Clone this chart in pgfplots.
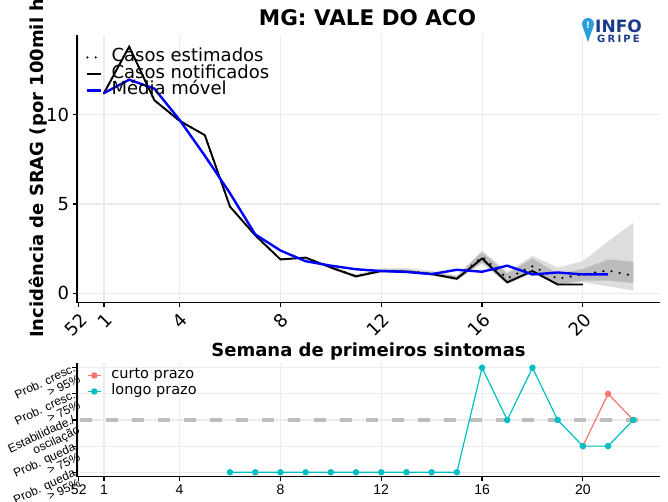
\documentclass[border=0pt]{standalone}
\usepackage{fontspec}
\setmainfont{DejaVu Sans}
\newfontfamily\arialf{Liberation Sans}
\usepackage{pgfplots}
\usepackage{pgfplotstable}
\pgfplotsset{compat=1.18}
\definecolor{gridc}{HTML}{EBEBEB}
\definecolor{cyanc}{HTML}{00BFC4}
\definecolor{salmonc}{HTML}{F8766D}
\definecolor{ribL}{HTML}{DDDDDD}
\definecolor{ribD}{HTML}{BBBBBB}
\definecolor{pinb}{HTML}{2B9FD9}
\definecolor{navyc}{HTML}{1B3A8C}
\definecolor{dashc}{HTML}{BEBEBE}

% week index: 0 = week 52, then 1..22
% ribbons: upper bound forward, lower bound backward (closed polygon)
\pgfplotstableread{
x y
10 1.52
11 1.06
12 1.42
13 1.42
14 1.26
15 1.00
16 2.40
17 1.20
18 2.10
19 1.45
20 1.80
21 2.90
22 3.95
22 0.15
21 0.40
20 0.62
19 0.44
18 1.12
17 0.50
16 1.66
15 0.72
14 1.00
13 1.14
12 1.18
11 0.88
10 1.35
}\outerT
\pgfplotstableread{
x y
10 1.48
11 1.02
12 1.34
13 1.32
14 1.18
15 0.95
16 2.30
17 1.10
18 1.95
19 1.10
20 1.36
21 1.90
22 1.77
22 0.58
21 0.72
20 0.72
19 0.50
18 1.20
17 0.56
16 1.75
15 0.76
14 1.03
13 1.17
12 1.21
11 0.90
10 1.38
}\innerT
\pgfplotstableread{
x y
1 11.2
2 13.8
3 10.8
4 9.65
5 8.85
6 4.85
7 3.25
8 1.9
9 2.0
10 1.45
11 0.95
12 1.25
13 1.22
14 1.08
15 0.82
16 1.95
17 0.62
18 1.25
19 0.50
20 0.50
}\notifT
\pgfplotstableread{
x y
1 11.2
2 13.8
3 10.8
4 9.65
5 8.85
6 4.85
7 3.25
8 1.9
9 2.0
10 1.45
11 0.97
12 1.27
13 1.24
14 1.10
15 0.84
16 2.05
17 0.84
18 1.52
19 0.82
20 1.06
21 1.28
22 0.98
}\estT
\pgfplotstableread{
x y
1 11.2
2 11.95
3 11.45
4 9.7
5 7.7
6 5.6
7 3.3
8 2.4
9 1.8
10 1.55
11 1.35
12 1.25
13 1.2
14 1.08
15 1.32
16 1.21
17 1.55
18 1.06
19 1.17
20 1.06
21 1.06
}\mmT

\begin{document}
\begin{tikzpicture}
\useasboundingbox (0pt,0pt) rectangle (668pt,502pt);

% ---------- top panel ----------
\begin{axis}[
  at={(77pt,199.3pt)}, anchor=south west,
  scale only axis, width=583pt, height=267.7pt,
  xmin=-0.07, xmax=23.06, ymin=-0.52, ymax=14.45,
  axis lines=left, axis line style={-, line width=1.5pt, black},
  xtick={0,1,4,8,12,16,20}, xticklabels={52,1,4,8,12,16,20},
  ytick={0,5,10},
  /pgf/number format/assume math mode=true,
  tick align=outside, major tick length=4.5pt,
  tick style={black, line width=1.2pt},
  grid=major, grid style={gridc, line width=1.1pt},
  xticklabel style={rotate=45, anchor=north east, font=\fontsize{18}{18}\selectfont},
  yticklabel style={font=\fontsize{18}{18}\selectfont},
  legend style={at={(axis description cs:0,1)}, anchor=north west, xshift=9pt, yshift=-14pt,
    draw=none, fill=none, inner sep=0pt, font=\fontsize{18}{18}\selectfont,
    nodes={inner sep=0pt, text height=12.5pt, text depth=4pt, anchor=west},
    row sep=0pt, column sep=0pt},
  legend cell align=left,
  legend image code/.code={\draw[#1] (0pt,0pt) -- (14pt,0pt); \path (23pt,0pt);},
]
\addplot[fill=ribL, draw=none, forget plot] table[x=x,y=y]{\outerT} -- cycle;
\addplot[fill=ribD, draw=none, forget plot] table[x=x,y=y]{\innerT} -- cycle;
\addplot[black, line width=2.4pt, line cap=round, dash pattern=on 0pt off 8.3pt] table[x=x,y=y]{\estT};
\addlegendentry{Casos estimados}
\addplot[black, line width=1.9pt] table[x=x,y=y]{\notifT};
\addlegendentry{Casos notificados}
\addplot[blue, line width=2.4pt] table[x=x,y=y]{\mmT};
\addlegendentry{Média móvel}
\end{axis}

% ---------- bottom panel ----------
\begin{axis}[
  at={(77pt,25.3pt)}, anchor=south west,
  scale only axis, width=583pt, height=113.4pt,
  xmin=-0.07, xmax=23.06, ymin=-2.17, ymax=2.17,
  axis lines=left, axis line style={-, line width=1.5pt, black},
  xtick={0,1,4,8,12,16,20}, xticklabels={52,1,4,8,12,16,20},
  ytick={-2,-1,0,1,2},
  yticklabels={{Prob. queda\\> 95\%},{Prob. queda\\> 75\%},{Estabilidade./\\oscilação},{Prob. cresc.\\> 75\%},{Prob. cresc.\\> 95\%}},
  tick align=outside, major tick length=4.5pt,
  tick style={black, line width=1.2pt},
  grid=major, grid style={gridc, line width=1.1pt},
  xticklabel style={font=\arialf\fontsize{14}{14}\selectfont},
  yticklabel style={xshift=4.5pt, yshift=-5pt, rotate=25, anchor=east, align=right, inner sep=0pt,
    font=\arialf\fontsize{12}{11.5}\selectfont},
  legend style={at={(axis description cs:0,1)}, anchor=north west, xshift=10pt, yshift=-4pt,
    draw=none, fill=none, inner sep=0pt, font=\fontsize{14.5}{14.5}\selectfont,
    nodes={inner sep=0pt, text height=11.5pt, text depth=4.5pt, anchor=west},
    row sep=0pt, column sep=0pt},
  legend cell align=left,
  legend image code/.code={\draw[#1] (0pt,0pt) -- (13pt,0pt); \fill[#1] (6.5pt,0pt) circle (2.6pt); \path (23pt,0pt);},
]
\addplot[dashc, line width=4pt, dash pattern=on 12pt off 14pt, forget plot] coordinates {(0.05,0) (22.6,0)};
\addplot[salmonc, line width=1.2pt, mark=*, mark size=2.6pt] coordinates {(20,-1) (21,1) (22,0)};
\addlegendentry{curto prazo}
\addplot[cyanc, line width=1.2pt, mark=*, mark size=2.6pt] coordinates {
 (6,-2) (7,-2) (8,-2) (9,-2) (10,-2) (11,-2) (12,-2) (13,-2) (14,-2) (15,-2)
 (16,2) (17,0) (18,2) (19,0) (20,-1) (21,-1) (22,0)};
\addlegendentry{longo prazo}
\end{axis}

% ---------- titles ----------
\node[font=\fontsize{21.5}{21.5}\bfseries\selectfont, inner sep=0pt] at (367.5pt,484.5pt) {MG: VALE DO ACO};
\node[font=\fontsize{18}{18}\bfseries\selectfont, inner sep=0pt, anchor=base] at (368.5pt,145.3pt) {Semana de primeiros sintomas};
\node[rotate=90, anchor=base west, font=\fontsize{18}{18}\bfseries\selectfont, inner sep=0pt] at (43pt,164pt) {Incidência de SRAG (por 100mil ha};

% ---------- logo ----------
\fill[pinb] (588pt,460pt) -- (582.8pt,475pt) arc[start angle=210, end angle=-30, radius=6pt] -- cycle;
\node[text=white, font=\fontsize{9}{9}\bfseries\selectfont, inner sep=0pt] at (588pt,477pt) {!};
\node[anchor=base west, inner sep=0pt, text=navyc, font=\fontsize{17}{17}\bfseries\selectfont] at (595pt,469pt) {INFO};
\node[anchor=base west, inner sep=0pt, text=navyc, font=\fontsize{10}{10}\bfseries\selectfont] at (597pt,459pt) {G\hspace{2.2pt}R\hspace{2.2pt}I\hspace{2.2pt}P\hspace{2.2pt}E};
\end{tikzpicture}
\end{document}
